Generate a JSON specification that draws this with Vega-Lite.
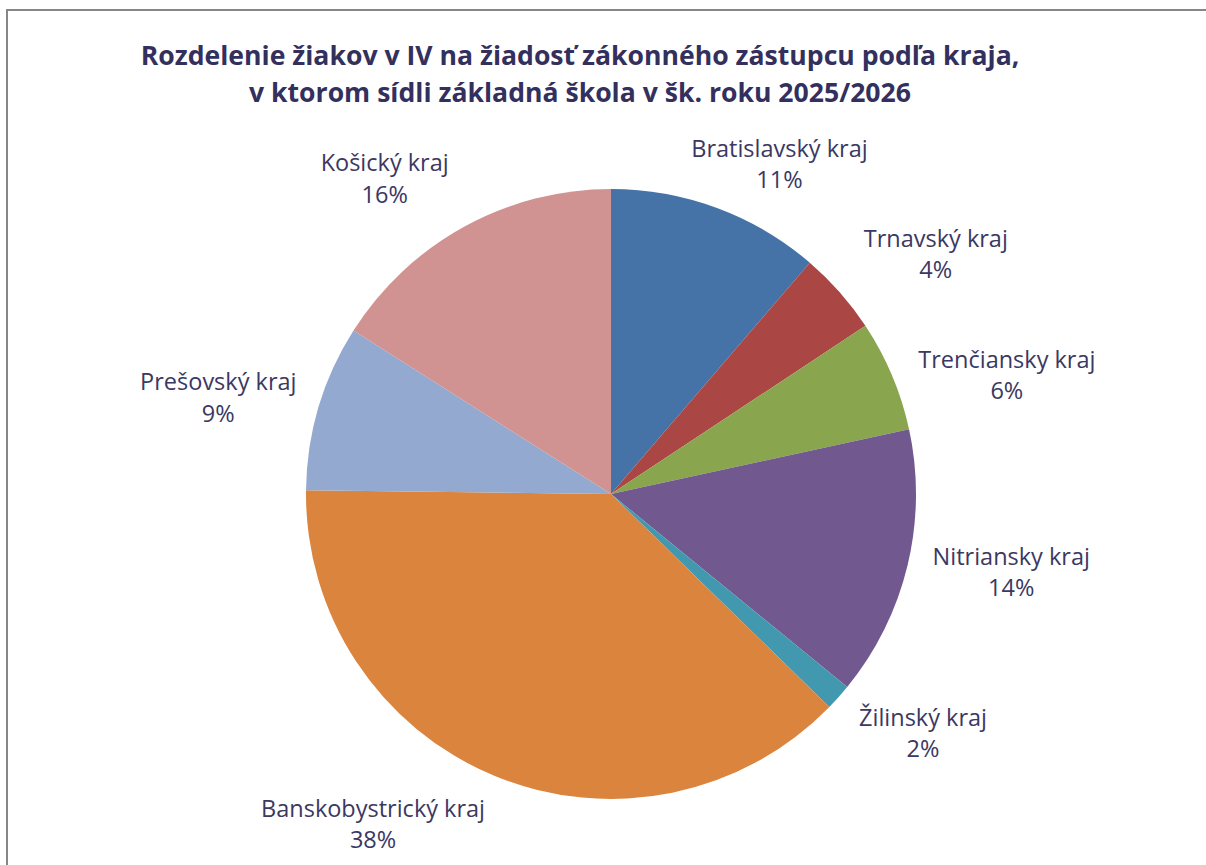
{
  "$schema": "https://vega.github.io/schema/vega-lite/v6.json",
  "autosize": "none",
  "padding": {"left": 7, "top": 10, "right": 0, "bottom": 0},
  "width": 1208,
  "height": 968,
  "background": "white",
  "config": {"view": {"stroke": null}, "font": "Open Sans"},
  "title": {
    "text": ["Rozdelenie žiakov v IV na žiadosť zákonného zástupcu podľa kraja,", "v ktorom sídli základná škola v šk. roku 2025/2026"],
    "font": "Open Sans", "fontSize": 26.6, "fontWeight": "bold", "color": "#33305E",
    "anchor": "middle", "frame": "group", "orient": "top", "baseline": "top",
    "offset": -99, "dx": -31, "lineHeight": 37
  },
  "data": {
    "values": [
      {"order": 1, "region": "Bratislavský kraj", "value": 11.3, "label": ["Bratislavský kraj", "11%"]},
      {"order": 2, "region": "Trnavský kraj", "value": 4.4, "label": ["Trnavský kraj", "4%"]},
      {"order": 3, "region": "Trenčiansky kraj", "value": 5.9, "label": ["Trenčiansky kraj", "6%"]},
      {"order": 4, "region": "Nitriansky kraj", "value": 14.3, "label": ["Nitriansky kraj", "14%"]},
      {"order": 5, "region": "Žilinský kraj", "value": 1.4, "label": ["Žilinský kraj", "2%"]},
      {"order": 6, "region": "Banskobystrický kraj", "value": 37.9, "label": ["Banskobystrický kraj", "38%"]},
      {"order": 7, "region": "Prešovský kraj", "value": 8.8, "label": ["Prešovský kraj", "9%"]},
      {"order": 8, "region": "Košický kraj", "value": 16.0, "label": ["Košický kraj", "16%"]}
    ]
  },
  "layer": [
    {
      "data": {"values": [{"frame": 1}]},
      "mark": {"type": "rect", "fill": null, "fillOpacity": 0, "stroke": "#878787", "strokeWidth": 2},
      "encoding": {}
    },
    {
      "mark": {"type": "arc", "outerRadius": 305, "strokeWidth": 0},
      "encoding": {
        "theta": {"field": "value", "type": "quantitative", "stack": true},
        "order": {"field": "order", "type": "quantitative", "sort": "ascending"},
        "color": {
          "field": "region", "type": "nominal", "legend": null,
          "scale": {
            "domain": ["Bratislavský kraj", "Trnavský kraj", "Trenčiansky kraj", "Nitriansky kraj", "Žilinský kraj", "Banskobystrický kraj", "Prešovský kraj", "Košický kraj"],
            "range": ["#4572A7", "#AA4643", "#89A54E", "#71588F", "#4198AF", "#DB843D", "#93A9CF", "#D19392"]
          }
        }
      }
    },
    {
      "mark": {
        "type": "text", "font": "Open Sans", "fontSize": 23.5, "lineHeight": 31.5,
        "color": "#3B3862", "align": "center", "baseline": "middle", "dy": -15.75,
        "radius": {"expr": "datum.region === 'Bratislavský kraj' ? 369 : datum.region === 'Trnavský kraj' ? 403 : datum.region === 'Trenčiansky kraj' ? 413 : datum.region === 'Nitriansky kraj' ? 408 : datum.region === 'Žilinský kraj' ? 394 : datum.region === 'Banskobystrický kraj' ? 408 : datum.region === 'Prešovský kraj' ? 404 : 387"},
        "thetaOffset": {"expr": "datum.region === 'Bratislavský kraj' ? 0.119 : datum.region === 'Trnavský kraj' ? 0.089 : datum.region === 'Trenčiansky kraj' ? 0.110 : datum.region === 'Nitriansky kraj' ? -0.040 : datum.region === 'Žilinský kraj' ? -0.072 : datum.region === 'Banskobystrický kraj' ? 0.230 : datum.region === 'Prešovský kraj' ? -0.052 : -0.122"}
      },
      "encoding": {
        "theta": {"field": "value", "type": "quantitative", "stack": true},
        "order": {"field": "order", "type": "quantitative", "sort": "ascending"},
        "detail": {"field": "region", "type": "nominal"},
        "text": {"field": "label", "type": "nominal"}
      }
    }
  ]
}
